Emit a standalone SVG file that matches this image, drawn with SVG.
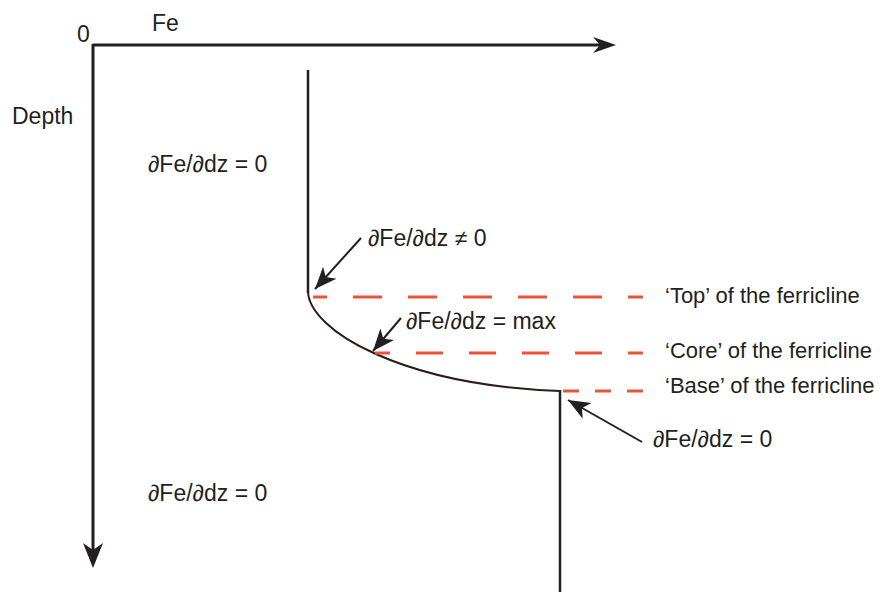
<svg xmlns="http://www.w3.org/2000/svg" width="882" height="592" viewBox="0 0 882 592">
<style>
text{font-family:"Liberation Sans",Arial,sans-serif;font-size:23px;fill:#231f20}
text.lv{font-size:22px}
.ax{stroke:#231f20;stroke-width:3;fill:none}
.prof{stroke:#231f20;stroke-width:2.5;fill:none}
.curve{stroke:#2e1c14;stroke-width:2;fill:none}
.dash{stroke:#ef5236;stroke-width:3;fill:none}
.ann{stroke:#231f20;stroke-width:2;fill:none}
.head{fill:#231f20}
</style>
<defs>
<marker id="ah" markerUnits="userSpaceOnUse" markerWidth="24" markerHeight="20" refX="22" refY="10" orient="auto" viewBox="0 0 24 20">
<path d="M0,1 L22,10 L0,19 L6,10 Z" class="head"/>
</marker>
</defs>
<rect width="882" height="592" fill="#fff"/>
<g id="axes">
<path class="ax" d="M93,45 H600"/>
<path class="head" d="M616,45 L593,37 L600,45 L593,53 Z"/>
<path class="ax" d="M93,44 V552"/>
<path class="head" d="M93,568 L83,543 L93,550 L103,543 Z"/>
<text x="77" y="42">0</text>
<text x="152" y="31">Fe</text>
<text x="12" y="124">Depth</text>
</g>
<g id="profile">
<path class="prof" d="M308,70 V293"/>
<path class="curve" d="M308,292 C310,330 400,385 560,391"/>
<path class="prof" d="M560,390 V592"/>
</g>
<g id="levels">
<path class="dash" d="M313,297 H643" stroke-dasharray="29 26" stroke-dashoffset="15"/>
<path class="dash" d="M375,353 H643" stroke-dasharray="27 26" stroke-dashoffset="12"/>
<path class="dash" d="M563,391 H643" stroke-dasharray="16 16"/>
<text class="lv" x="665" y="303">‘Top’ of the ferricline</text>
<text class="lv" x="665" y="358">‘Core’ of the ferricline</text>
<text class="lv" x="665" y="393">‘Base’ of the ferricline</text>
</g>
<g id="connectors">
<path class="ann" d="M361,238 L315,289" marker-end="url(#ah)"/>
<path class="ann" d="M401,318 L373,351" marker-end="url(#ah)"/>
<path class="ann" d="M642,442 L568,400" marker-end="url(#ah)"/>
</g>
<g id="labels">
<text x="148" y="172">∂Fe/∂dz = 0</text>
<text x="368" y="246">∂Fe/∂dz ≠ 0</text>
<text x="406" y="329">∂Fe/∂dz = max</text>
<text x="653" y="447">∂Fe/∂dz = 0</text>
<text x="148" y="501">∂Fe/∂dz = 0</text>
</g>
</svg>
